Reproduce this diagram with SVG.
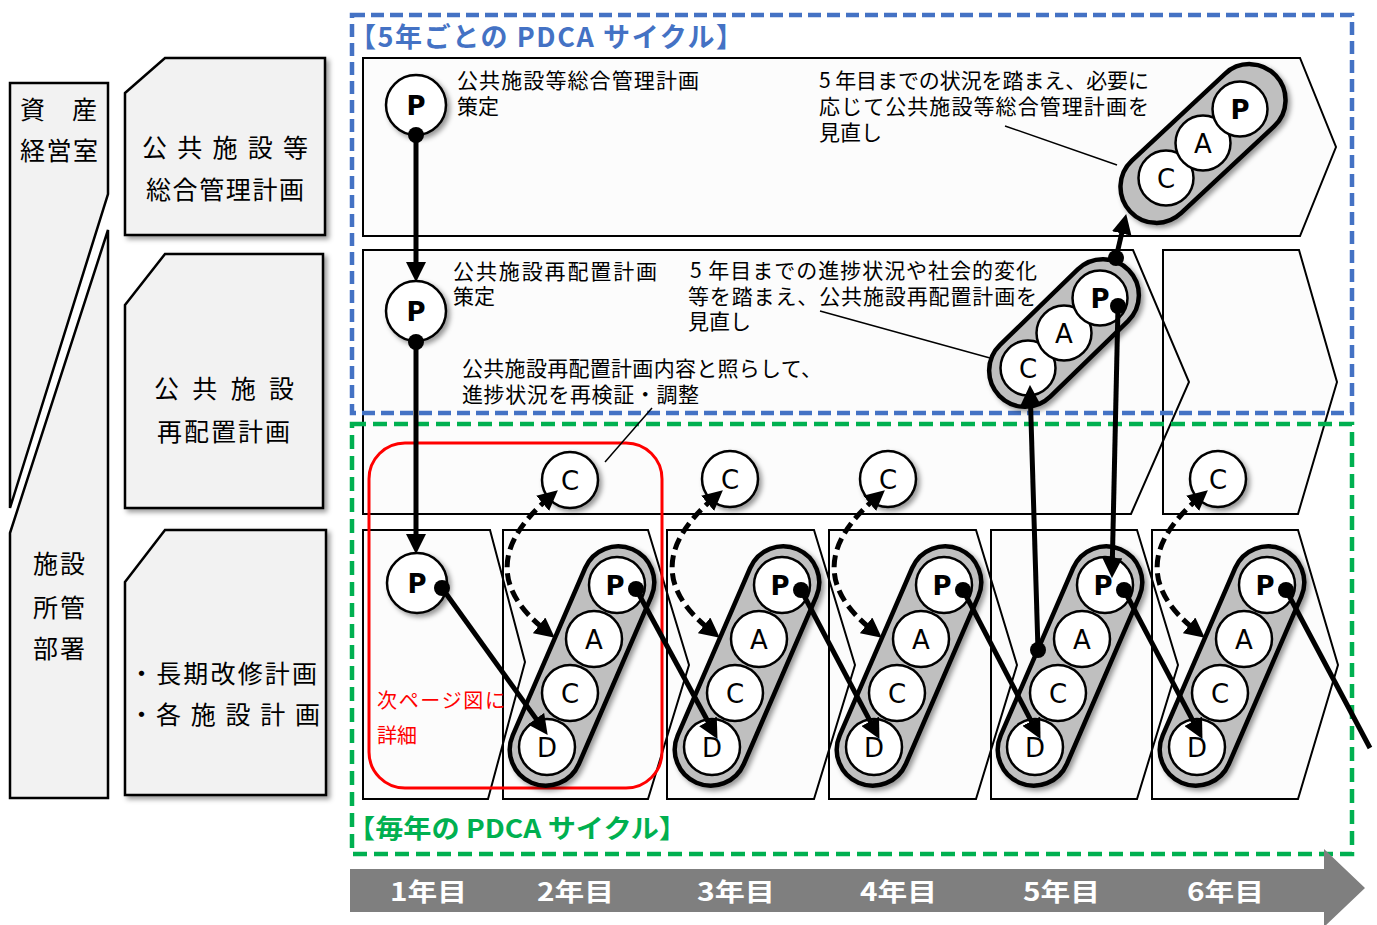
<svg xmlns="http://www.w3.org/2000/svg" width="1377" height="925" viewBox="0 0 1377 925">
<defs>
<style>
.jp{font-family:"Noto Sans CJK JP","Noto Sans CJK SC",sans-serif;fill:#000}
.t20{font-size:20px}
.t21{font-size:21px}
.t25{font-size:25px}
.lat{font-family:"DejaVu Sans","Noto Sans",sans-serif;font-size:26px;text-anchor:middle;fill:#000}
.b{font-weight:bold}
.box{fill:#f2f2f2;stroke:#000;stroke-width:2.5}
.rowf{fill:#fcfcfc;stroke:none}
.rows{fill:none;stroke:#000;stroke-width:2}
.circ{fill:#fff;stroke:#000;stroke-width:2.5}
.cap{fill:#bfbfbf;stroke:#000;stroke-width:4.5}
.ln{stroke:#000;stroke-width:5;fill:none}
.dash{stroke:#000;stroke-width:5;fill:none;stroke-dasharray:12 6}
.thin{stroke:#000;stroke-width:1.5;fill:none}
.dot{fill:#000}
.yr{font-family:"Noto Sans CJK JP",sans-serif;font-size:25px;font-weight:bold;fill:#fff}
</style>
<filter id="sh" x="-20%" y="-20%" width="150%" height="150%"><feDropShadow dx="3" dy="3" stdDeviation="2.5" flood-color="#000" flood-opacity="0.4"/></filter>
<marker id="ah" markerUnits="userSpaceOnUse" markerWidth="20" markerHeight="20" viewBox="0 0 18 18" refX="8" refY="9" orient="auto-start-reverse"><path d="M0,0 L18,9 L0,18 z" fill="#000"/></marker>
</defs>
<rect width="1377" height="925" fill="#fff"/>

<!-- left column -->
<g id="dept-asset">
<polygon class="box" points="10,83 108,83 108,194 10,508"/>
<text class="jp t25" x="20" y="119" textLength="77">資　産</text>
<text class="jp t25" x="20" y="160" textLength="78">経営室</text>
</g>
<g id="dept-facility">
<polygon class="box" points="108,230 108,798 10,798 10,533"/>
<text class="jp t25" x="33" y="573" textLength="52">施設</text>
<text class="jp t25" x="33" y="617" textLength="52">所管</text>
<text class="jp t25" x="33" y="658" textLength="52">部署</text>
</g>
<g id="plan-general">
<polygon class="box" filter="url(#sh)" points="125,93 165,58 325,58 325,235 125,235"/>
<text class="jp t25" x="142" y="157" textLength="166">公 共 施 設 等</text>
<text class="jp t25" x="146" y="199" textLength="158">総合管理計画</text>
</g>
<g id="plan-relocation">
<polygon class="box" filter="url(#sh)" points="125,305 165,254 323,254 323,508 125,508"/>
<text class="jp t25" x="154" y="398" textLength="140">公 共 施 設</text>
<text class="jp t25" x="157" y="441" textLength="133">再配置計画</text>
</g>
<g id="plan-facility">
<polygon class="box" filter="url(#sh)" points="125,582 165,530 326,530 326,795 125,795"/>
<text class="jp t25" x="129" y="683" textLength="188">・長期改修計画</text>
<text class="jp t25" x="129" y="724" textLength="191">・各 施 設 計 画</text>
</g>

<!-- row shapes -->
<g id="rows">
<polygon class="rowf" points="363,58 1300,58 1336,147 1300,236 363,236"/>
<polygon class="rowf" points="363,250 1133,250 1189,382 1131,514 363,514"/>
<polygon class="rowf" points="1163,250 1299,250 1337,382 1298,514 1163,514"/>
<polygon class="rowf" points="363,530 490,530 525,662 488,799 363,799"/>
<polygon class="rowf" points="503,530 648,530 689,665 648,799 503,799"/>
<polygon class="rowf" points="667,530 814,530 855,665 814,799 667,799"/>
<polygon class="rowf" points="829,530 976,530 1017,665 976,799 829,799"/>
<polygon class="rowf" points="991,530 1137,530 1178,665 1137,799 991,799"/>
<polygon class="rowf" points="1152,530 1298,530 1338,665 1298,799 1152,799"/>
<polygon class="rows" points="363,58 1300,58 1336,147 1300,236 363,236"/>
<polygon class="rows" points="363,250 1133,250 1189,382 1131,514 363,514"/>
<polygon class="rows" points="1163,250 1299,250 1337,382 1298,514 1163,514"/>
<polygon class="rows" points="363,530 490,530 525,662 488,799 363,799"/>
<polygon class="rows" points="503,530 648,530 689,665 648,799 503,799"/>
<polygon class="rows" points="667,530 814,530 855,665 814,799 667,799"/>
<polygon class="rows" points="829,530 976,530 1017,665 976,799 829,799"/>
<polygon class="rows" points="991,530 1137,530 1178,665 1137,799 991,799"/>
<polygon class="rows" points="1152,530 1298,530 1338,665 1298,799 1152,799"/>
</g>

<!-- frames -->
<g id="frame-5year">
<rect x="352" y="15" width="1000" height="398" fill="none" stroke="#4472C4" stroke-width="4.5" stroke-dasharray="13 6"/>
<text class="jp b" x="349" y="47" font-size="27" style="fill:#4472C4" textLength="394">【5年ごとの PDCA サイクル】</text>
</g>
<g id="frame-yearly">
<rect x="352" y="424" width="1000" height="430" fill="none" stroke="#00B050" stroke-width="4.5" stroke-dasharray="14 7"/>
<text class="jp b" x="347" y="838" font-size="26" style="fill:#00B050" textLength="340" lengthAdjust="spacingAndGlyphs">【毎年の PDCA サイクル】</text>
</g>

<!-- texts in rows -->
<g id="label-general">
<text class="jp t21" x="457" y="88" textLength="242">公共施設等総合管理計画</text>
<text class="jp t21" x="457" y="114">策定</text>
</g>
<g id="label-general-review">
<text class="jp t21" x="819" y="88" textLength="330">5 年目までの状況を踏まえ、必要に</text>
<text class="jp t21" x="819" y="114" textLength="330">応じて公共施設等総合管理計画を</text>
<text class="jp t21" x="819" y="140">見直し</text>
</g>
<g id="label-relocation">
<text class="jp t21" x="453" y="279" textLength="204">公共施設再配置計画</text>
<text class="jp t21" x="453" y="304">策定</text>
</g>
<g id="label-relocation-review">
<text class="jp t21" x="690" y="278" textLength="347">5 年目までの進捗状況や社会的変化</text>
<text class="jp t21" x="688" y="304" textLength="349">等を踏まえ、公共施設再配置計画を</text>
<text class="jp t21" x="688" y="329">見直し</text>
</g>
<g id="label-recheck">
<text class="jp t21" x="462" y="376" textLength="360">公共施設再配置計画内容と照らして、</text>
<text class="jp t21" x="462" y="402" textLength="237">進捗状況を再検証・調整</text>
</g>

<!-- red note -->
<g id="note-detail">
<rect x="369" y="443" width="293" height="345" rx="36" fill="none" stroke="#FF0000" stroke-width="3"/>
<text class="jp t20" x="377" y="708" style="fill:#FF0000" textLength="128">次ページ図に</text>
<text class="jp t20" x="377" y="743" style="fill:#FF0000">詳細</text>
</g>

<!-- P nodes -->
<g id="p-general">
<circle class="circ" filter="url(#sh)" cx="416" cy="105" r="30"/>
<text class="lat b" x="416" y="115" font-size="27">P</text>
</g>
<g id="p-relocation">
<circle class="circ" filter="url(#sh)" cx="416" cy="311" r="30"/>
<text class="lat b" x="416" y="321" font-size="27">P</text>
</g>
<g id="p-year1">
<circle class="circ" filter="url(#sh)" cx="417" cy="583" r="30"/>
<text class="lat b" x="417" y="593" font-size="27">P</text>
</g>

<!-- 5-year capsules -->
<g id="cap-general">
<g filter="url(#sh)">
<rect class="cap" transform="translate(1203,143.5) rotate(-43)" x="-99.6" y="-36" width="199.2" height="72" rx="36"/>
<circle class="circ" cx="1166" cy="178" r="27.5"/>
<circle class="circ" cx="1203" cy="143" r="27.5"/>
<circle class="circ" cx="1240" cy="109" r="27.5"/>
</g>
<text class="lat" x="1166" y="188">C</text>
<text class="lat" x="1203" y="153">A</text>
<text class="lat b" x="1240" y="119" font-size="27">P</text>
</g>
<g id="cap-relocation">
<g filter="url(#sh)">
<rect class="cap" transform="translate(1064,333) rotate(-44.2)" x="-90.2" y="-36" width="180.4" height="72" rx="36"/>
<circle class="circ" cx="1028" cy="368" r="27.5"/>
<circle class="circ" cx="1064" cy="333" r="27.5"/>
<circle class="circ" cx="1100" cy="298" r="27.5"/>
</g>
<text class="lat" x="1028" y="378">C</text>
<text class="lat" x="1064" y="343">A</text>
<text class="lat b" x="1100" y="308" font-size="27">P</text>
</g>

<!-- yearly C nodes -->
<g id="c-year2"><circle class="circ" filter="url(#sh)" cx="570" cy="480" r="28"/><text class="lat" x="570" y="490">C</text></g>
<g id="c-year3"><circle class="circ" filter="url(#sh)" cx="730" cy="479" r="28"/><text class="lat" x="730" y="489">C</text></g>
<g id="c-year4"><circle class="circ" filter="url(#sh)" cx="888" cy="479" r="28"/><text class="lat" x="888" y="489">C</text></g>
<g id="c-year6"><circle class="circ" filter="url(#sh)" cx="1218" cy="479" r="28"/><text class="lat" x="1218" y="489">C</text></g>

<!-- yearly cycles -->
<g id="cycle-year2">
<g filter="url(#sh)">
<rect class="cap" transform="translate(582,666) rotate(-66.6)" x="-127.2" y="-36" width="254.4" height="72" rx="36"/>
<circle class="circ" cx="617" cy="585" r="28"/><circle class="circ" cx="594" cy="639" r="28"/><circle class="circ" cx="570" cy="693" r="28"/><circle class="circ" cx="547" cy="747" r="28"/>
</g>
<text class="lat b" x="615" y="595" font-size="27">P</text><text class="lat" x="594" y="649">A</text><text class="lat" x="570" y="703">C</text><text class="lat" x="547" y="757">D</text>
</g>
<g id="cycle-year3">
<g filter="url(#sh)">
<rect class="cap" transform="translate(747,666) rotate(-66.6)" x="-127.2" y="-36" width="254.4" height="72" rx="36"/>
<circle class="circ" cx="782" cy="585" r="28"/><circle class="circ" cx="759" cy="639" r="28"/><circle class="circ" cx="735" cy="693" r="28"/><circle class="circ" cx="712" cy="747" r="28"/>
</g>
<text class="lat b" x="780" y="595" font-size="27">P</text><text class="lat" x="759" y="649">A</text><text class="lat" x="735" y="703">C</text><text class="lat" x="712" y="757">D</text>
</g>
<g id="cycle-year4">
<g filter="url(#sh)">
<rect class="cap" transform="translate(909,666) rotate(-66.6)" x="-127.2" y="-36" width="254.4" height="72" rx="36"/>
<circle class="circ" cx="944" cy="585" r="28"/><circle class="circ" cx="921" cy="639" r="28"/><circle class="circ" cx="897" cy="693" r="28"/><circle class="circ" cx="874" cy="747" r="28"/>
</g>
<text class="lat b" x="942" y="595" font-size="27">P</text><text class="lat" x="921" y="649">A</text><text class="lat" x="897" y="703">C</text><text class="lat" x="874" y="757">D</text>
</g>
<g id="cycle-year5">
<g filter="url(#sh)">
<rect class="cap" transform="translate(1070,666) rotate(-66.6)" x="-127.2" y="-36" width="254.4" height="72" rx="36"/>
<circle class="circ" cx="1105" cy="585" r="28"/><circle class="circ" cx="1082" cy="639" r="28"/><circle class="circ" cx="1058" cy="693" r="28"/><circle class="circ" cx="1035" cy="747" r="28"/>
</g>
<text class="lat b" x="1103" y="595" font-size="27">P</text><text class="lat" x="1082" y="649">A</text><text class="lat" x="1058" y="703">C</text><text class="lat" x="1035" y="757">D</text>
</g>
<g id="cycle-year6">
<g filter="url(#sh)">
<rect class="cap" transform="translate(1232,666) rotate(-66.6)" x="-127.2" y="-36" width="254.4" height="72" rx="36"/>
<circle class="circ" cx="1267" cy="585" r="28"/><circle class="circ" cx="1244" cy="639" r="28"/><circle class="circ" cx="1220" cy="693" r="28"/><circle class="circ" cx="1197" cy="747" r="28"/>
</g>
<text class="lat b" x="1265" y="595" font-size="27">P</text><text class="lat" x="1244" y="649">A</text><text class="lat" x="1220" y="703">C</text><text class="lat" x="1197" y="757">D</text>
</g>

<!-- connectors -->
<g id="connectors">
<line class="thin" x1="1005" y1="126" x2="1117" y2="165"/>
<line class="thin" x1="820" y1="311" x2="990" y2="358"/>
<line class="thin" x1="652" y1="408" x2="605" y2="462"/>
<path class="ln" d="M416,135 L416,271" marker-end="url(#ah)"/>
<path class="ln" d="M416,342 L416,543" marker-end="url(#ah)"/>
<path class="ln" d="M442,588 L541.2,725.9" marker-end="url(#ah)"/>
<path class="ln" d="M636,589 L712.2,729.2" marker-end="url(#ah)"/>
<path class="ln" d="M801,590 L874.3,729.2" marker-end="url(#ah)"/>
<path class="ln" d="M963,590 L1035.4,729.1" marker-end="url(#ah)"/>
<path class="ln" d="M1124,590 L1197.3,729.2" marker-end="url(#ah)"/>
<path class="ln" d="M1286,590 L1370,748"/>
<path class="ln" d="M1038,650 L1030.3,396" marker-end="url(#ah)"/>
<path class="ln" d="M1118,306 L1112.2,567" marker-end="url(#ah)"/>
<path class="ln" d="M1116,258 L1123.7,224.8" marker-end="url(#ah)"/>
<path class="dash" d="M549.4,497.5 Q466.5,568 546.1,630.8" marker-start="url(#ah)" marker-end="url(#ah)"/>
<path class="dash" d="M714.4,497.5 Q631.5,568 711.1,630.8" marker-start="url(#ah)" marker-end="url(#ah)"/>
<path class="dash" d="M876.4,497.5 Q793.5,568 873.1,630.8" marker-start="url(#ah)" marker-end="url(#ah)"/>
<path class="dash" d="M1199.4,497.5 Q1116.5,568 1196.1,630.8" marker-start="url(#ah)" marker-end="url(#ah)"/>
<circle class="dot" cx="416" cy="135" r="8"/>
<circle class="dot" cx="416" cy="342" r="8"/>
<circle class="dot" cx="442" cy="588" r="8"/>
<circle class="dot" cx="636" cy="589" r="8"/>
<circle class="dot" cx="801" cy="590" r="8"/>
<circle class="dot" cx="963" cy="590" r="8"/>
<circle class="dot" cx="1124" cy="590" r="8"/>
<circle class="dot" cx="1286" cy="590" r="8"/>
<circle class="dot" cx="1038" cy="650" r="8"/>
<circle class="dot" cx="1118" cy="306" r="8"/>
<circle class="dot" cx="1116" cy="258" r="8"/>
</g>

<!-- timeline -->
<g id="timeline">
<polygon fill="#7f7f7f" points="350,869 1324,869 1324,849 1365,888 1324,927 1324,912 350,912"/>
<text class="yr" x="390" y="901" textLength="77" lengthAdjust="spacingAndGlyphs">1年目</text>
<text class="yr" x="537" y="901" textLength="77" lengthAdjust="spacingAndGlyphs">2年目</text>
<text class="yr" x="697" y="901" textLength="78" lengthAdjust="spacingAndGlyphs">3年目</text>
<text class="yr" x="860" y="901" textLength="77" lengthAdjust="spacingAndGlyphs">4年目</text>
<text class="yr" x="1023" y="901" textLength="77" lengthAdjust="spacingAndGlyphs">5年目</text>
<text class="yr" x="1187" y="901" textLength="77" lengthAdjust="spacingAndGlyphs">6年目</text>
</g>
</svg>
